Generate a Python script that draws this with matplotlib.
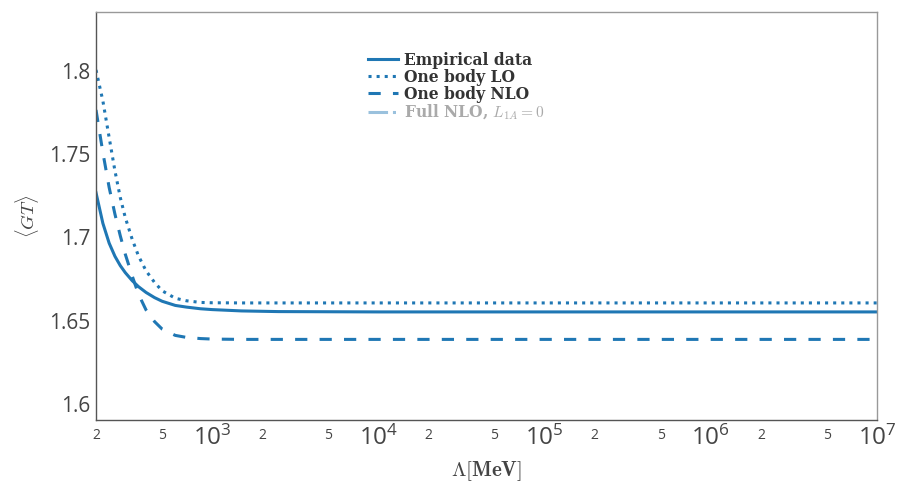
import matplotlib
matplotlib.use("Agg")
import matplotlib.pyplot as plt
from matplotlib.ticker import LogLocator, FuncFormatter, NullLocator
import numpy as np

lam = [200, 220, 240, 260, 280, 300, 330, 360, 400, 450, 500, 600, 700, 850,
       1000, 1500, 2500, 1e4, 1e5, 1e6, 1e7]
empirical = [1.7269, 1.7085, 1.6966, 1.6887, 1.6831, 1.6789, 1.6741, 1.6705, 1.6670, 1.6639,
             1.6617, 1.6592, 1.6582, 1.6572, 1.6567, 1.6559, 1.6555, 1.6553, 1.6553, 1.6553, 1.6553]
one_body_lo = [1.8006, 1.782, 1.760, 1.740, 1.724, 1.712, 1.699, 1.689, 1.680, 1.673,
               1.668, 1.6635, 1.6620, 1.6610, 1.6608, 1.6607, 1.6607, 1.6607, 1.6607, 1.6607, 1.6607]
one_body_nlo = [1.7766, 1.751, 1.730, 1.714, 1.701, 1.690, 1.677, 1.666, 1.6565, 1.6495,
                1.6450, 1.6412, 1.6400, 1.6393, 1.6390, 1.6388, 1.6388, 1.6388, 1.6388, 1.6388, 1.6388]
full_nlo_lam = []
full_nlo = []

labels = ["Empirical data", "One body LO", "One body NLO", r"Full NLO, $L_{1A}=0$"]
yticks = [1.6, 1.65, 1.7, 1.75, 1.8]

plt.rcParams['mathtext.fontset'] = 'custom'
plt.rcParams['mathtext.rm'] = 'Open Sans'
plt.rcParams['mathtext.it'] = 'Open Sans:italic'
plt.rcParams['mathtext.bf'] = 'Open Sans:bold'

fig = plt.figure(figsize=(9.04, 4.83), dpi=100)
ax = fig.add_axes([96/904, 1-420/483, 781/904, 408/483])

c = '#1f77b4'
lw = 2.2
ax.plot(lam, empirical, color=c, lw=lw, ls='-', label=labels[0])
ax.plot(lam, one_body_lo, color=c, lw=lw, ls=':', label=labels[1])
ax.plot(lam, one_body_nlo, color=c, lw=lw, ls=(0, (4, 4)), label=labels[2])
ax.plot(full_nlo_lam, full_nlo, color=c, lw=lw, ls='-.', alpha=0.45, label=labels[3])

ax.set_xscale('log')
ax.set_xlim(200, 1e7)
ax.set_ylim(1.5904, 1.8354)

ax.xaxis.set_major_locator(LogLocator(base=10, numticks=20))
ax.xaxis.set_minor_locator(LogLocator(base=10, subs=(2, 5), numticks=20))

def major_fmt(x, pos):
    e = int(round(np.log10(x)))
    return r"$10^{%d}$" % e

def minor_fmt(x, pos):
    e = np.floor(np.log10(x) + 1e-9)
    m = int(round(x / 10**e))
    return str(m)

ax.xaxis.set_major_formatter(FuncFormatter(major_fmt))
ax.xaxis.set_minor_formatter(FuncFormatter(minor_fmt))
ax.set_yticks(yticks)
ax.set_yticklabels(["%g" % v for v in yticks])
ax.yaxis.set_minor_locator(NullLocator())

ax.tick_params(axis='x', which='major', length=0, pad=4, labelsize=17.5, colors='#444444')
ax.tick_params(axis='x', which='minor', length=0, pad=6, labelsize=10, colors='#444444')
ax.tick_params(axis='y', which='major', length=0, pad=4, labelsize=15, colors='#444444')
for lab in ax.get_xticklabels(which='both') + ax.get_yticklabels():
    lab.set_fontfamily('Open Sans')

for s in ['left', 'bottom']:
    ax.spines[s].set_color('#555555')
    ax.spines[s].set_linewidth(1.0)
for s in ['top', 'right']:
    ax.spines[s].set_color('#999999')
    ax.spines[s].set_linewidth(1.0)

ax.set_xlabel(r"$\mathbf{\Lambda[MeV]}$", fontsize=15, color='#444444',
              math_fontfamily='cm', labelpad=6)
ax.set_ylabel(r"$\langle GT\rangle$", fontsize=13.5, color='#444444',
              math_fontfamily='cm', labelpad=6)

leg = ax.legend(loc='upper left', bbox_to_anchor=(0.348, 0.903), frameon=False,
                prop={'family': 'DejaVu Serif', 'weight': 'bold', 'size': 11.2},
                handlelength=1.95, handletextpad=0.35, labelspacing=0.0,
                borderpad=0, borderaxespad=0)
for i, t in enumerate(leg.get_texts()):
    t.set_math_fontfamily('cm')
    t.set_color('#333333' if i < 3 else '#aaaaaa')

fig.savefig('out.png', dpi=100)
